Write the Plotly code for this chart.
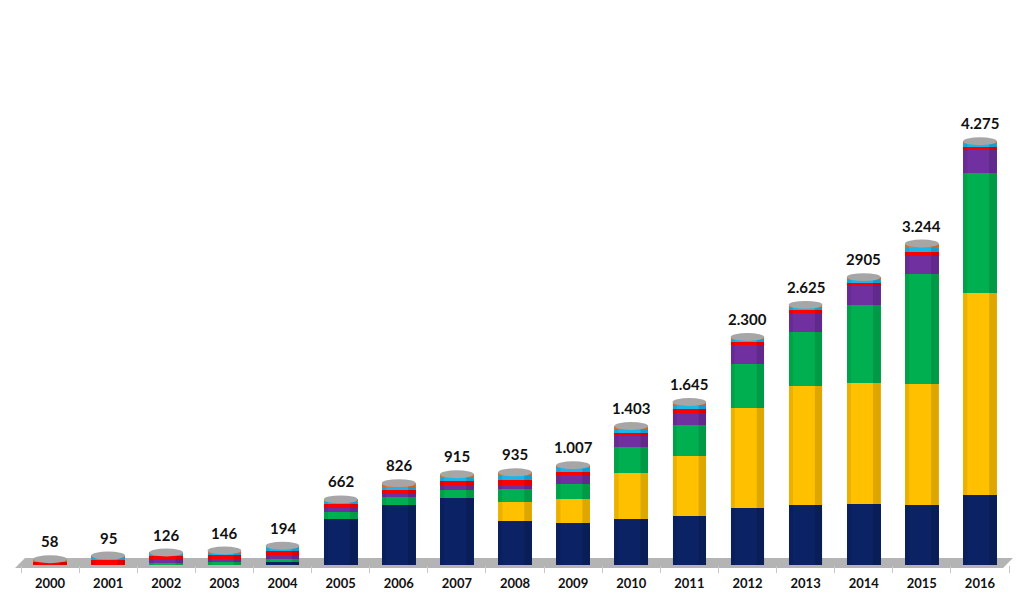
import plotly.graph_objects as go

years = ["2000", "2001", "2002", "2003", "2004", "2005", "2006", "2007", "2008",
         "2009", "2010", "2011", "2012", "2013", "2014", "2015", "2016"]
total_labels = ["58", "95", "126", "146", "194", "662", "826", "915", "935",
                "1.007", "1.403", "1.645", "2.300", "2.625", "2905", "3.244", "4.275"]

navy   = [0, 0, 0, 0, 35, 464, 605, 675, 440, 423, 464, 494, 575, 605, 615, 605, 706]
yellow = [0, 0, 0, 0, 0, 0, 0, 0, 200, 242, 463, 605, 1008, 1199, 1220, 1220, 2036]
green  = [0, 0, 25, 30, 30, 71, 80, 81, 125, 151, 262, 312, 443, 545, 786, 1108, 1209]
purple = [0, 0, 25, 30, 35, 40, 30, 50, 45, 91, 111, 121, 192, 191, 191, 182, 232]
red    = [35, 55, 45, 45, 45, 45, 40, 40, 50, 35, 35, 40, 30, 30, 35, 45, 35]
lblue  = [15, 30, 20, 25, 30, 22, 36, 35, 40, 33, 35, 38, 27, 28, 30, 40, 30]
orange = [8, 10, 11, 16, 19, 20, 35, 34, 35, 32, 33, 35, 25, 27, 28, 44, 27]

series = [
    ("navy", navy, "#0B2265"),
    ("yellow", yellow, "#FFC000"),
    ("green", green, "#00B050"),
    ("purple", purple, "#7030A0"),
    ("red", red, "#FF0000"),
    ("light blue", lblue, "#1CB5E8"),
    ("orange", orange, "#E8792B"),
]

totals = [sum(s[1][i] for s in series) for i in range(len(years))]

fig = go.Figure()
for name, vals, col in series:
    fig.add_trace(go.Bar(x=years, y=vals, name=name, marker=dict(color=col, line=dict(width=0)),
                         showlegend=False))

half = 0.29
shapes = []
# floor
shapes.append(dict(type="path", xref="paper", yref="paper",
                   path="M 0.004,0.0126 L 1.004,0.0126 L 0.994,-0.0054 L -0.006,-0.0054 Z",
                   fillcolor="#B4B4B4", line=dict(width=0), layer="below"))
for i, t in enumerate(totals):
    # cylinder shading (edges darker)
    shapes.append(dict(type="rect", xref="x", yref="y",
                       x0=i + half * 0.55, x1=i + half, y0=0, y1=t,
                       fillcolor="rgba(0,0,0,0.13)", line=dict(width=0)))
    shapes.append(dict(type="rect", xref="x", yref="y",
                       x0=i - half, x1=i - half * 0.75, y0=0, y1=t,
                       fillcolor="rgba(0,0,0,0.08)", line=dict(width=0)))
    # cylinder cap
    shapes.append(dict(type="circle", xref="x", yref="y",
                       x0=i - half, x1=i + half, y0=t - 40, y1=t + 40,
                       fillcolor="#A6A6A6", line=dict(width=0)))

annotations = []
for i, (t, lab) in enumerate(zip(totals, total_labels)):
    annotations.append(dict(x=i, y=t, xref="x", yref="y", text="<b>" + lab + "</b>",
                            showarrow=False, yanchor="bottom", yshift=7,
                            font=dict(family="Lato, Arial, sans-serif", size=15, color="#111111")))

fig.update_layout(
    barmode="stack",
    bargap=0.42,
    width=1016, height=602,
    margin=dict(l=13, r=15, t=2, b=45),
    plot_bgcolor="white", paper_bgcolor="white",
    shapes=shapes,
    annotations=annotations,
    xaxis=dict(type="category", range=[-0.5, 16.5], showgrid=False, zeroline=False,
               showline=False, ticks="outside", tickson="boundaries", ticklen=7,
               tickcolor="#C8C8C8", ticklabelstandoff=9,
               tickfont=dict(family="Lato, Arial, sans-serif", size=13, color="#111111"),
               tickprefix="<b>", ticksuffix="</b>"),
    yaxis=dict(range=[0, 5600], visible=False, showgrid=False, zeroline=False),
)

fig.write_html("out.html")
